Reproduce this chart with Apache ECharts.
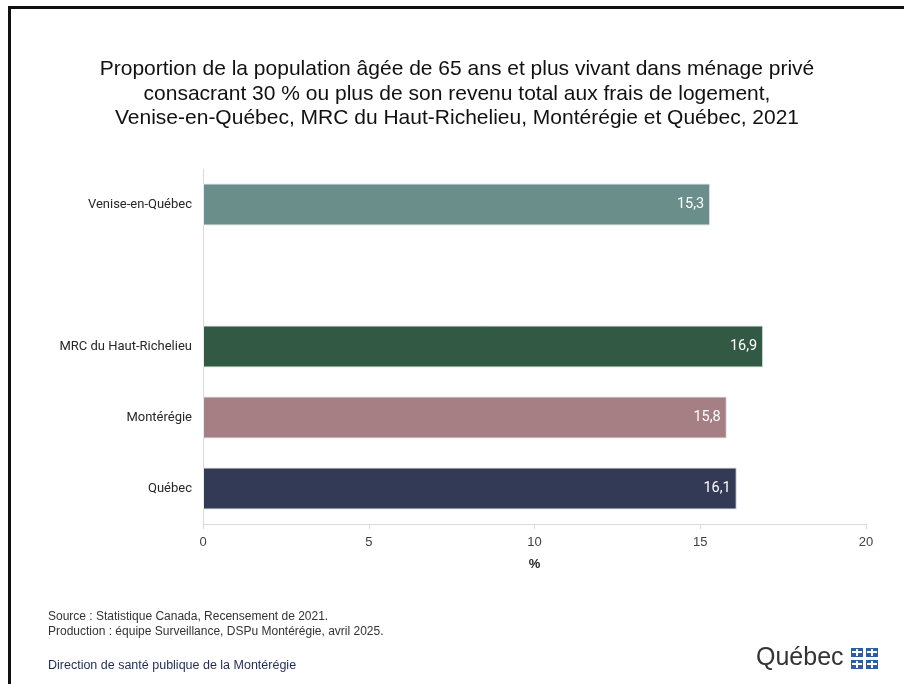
<!DOCTYPE html>
<html><head><meta charset="utf-8">
<script src="https://cdn.jsdelivr.net/npm/echarts@6/dist/echarts.min.js"></script>
<style>html,body{margin:0;padding:0;background:#fff}#c{width:904px;height:684px}</style>
</head><body><div id="c"></div>
<script>
const categories = ['Venise-en-Québec', '', 'MRC du Haut-Richelieu', 'Montérégie', 'Québec'];
const values = [15.3, null, 16.9, 15.8, 16.1];
const barColors = ['#6a8f8a', '#ffffff', '#325944', '#a67f84', '#323a56'];
const xTicks = [0, 5, 10, 15, 20];
const titleLines = [
  'Proportion de la population âgée de 65 ans et plus vivant dans ménage privé',
  'consacrant 30 % ou plus de son revenu total aux frais de logement,',
  'Venise-en-Québec, MRC du Haut-Richelieu, Montérégie et Québec, 2021'
];
const footerLines = [
  'Source : Statistique Canada, Recensement de 2021.',
  'Production : équipe Surveillance, DSPu Montérégie, avril 2025.'
];

const chart = echarts.init(document.getElementById('c'), null, {renderer: 'canvas'});

function flag(x, y) {
  const w = 12, h = 9;
  return [
    {type: 'rect', shape: {x: x, y: y, width: w, height: h}, style: {fill: '#2a5fa8'}},
    {type: 'rect', shape: {x: x + w / 2 - 1, y: y + 1, width: 2, height: h - 2}, style: {fill: '#ffffff'}},
    {type: 'rect', shape: {x: x + 1, y: y + Math.floor(h / 2) - 1, width: w - 2, height: 2}, style: {fill: '#ffffff'}}
  ];
}
const flags = [].concat(flag(851, 648), flag(866, 648), flag(851, 660), flag(866, 660));

chart.setOption({
  backgroundColor: '#ffffff',
  animation: false,
  title: {
    text: titleLines.join('\n'),
    left: 452, top: 52, textAlign: 'center',
    textStyle: {fontFamily: 'Liberation Sans, Arial, sans-serif', fontSize: 21, fontWeight: 'normal', color: '#111111', lineHeight: 24.5}
  },
  grid: {left: 203, right: 38, top: 169, bottom: 160, containLabel: false},
  xAxis: {
    type: 'value', min: 0, max: 20, interval: 5,
    name: '%', nameLocation: 'middle', nameGap: 34,
    nameTextStyle: {fontFamily: 'Liberation Sans, Arial, sans-serif', fontSize: 13, fontWeight: 'bold', color: '#262626'},
    axisLine: {show: true, lineStyle: {color: '#d9d9d9', width: 1}},
    axisTick: {show: true, length: 5, lineStyle: {color: '#d9d9d9'}},
    axisLabel: {fontFamily: 'Liberation Sans, Arial, sans-serif', fontSize: 13, color: '#404040', margin: 12,
      formatter: v => xTicks.indexOf(v) >= 0 ? String(v) : ''},
    splitLine: {show: false}
  },
  yAxis: {
    type: 'category', data: categories, inverse: true,
    axisLine: {show: true, lineStyle: {color: '#d9d9d9', width: 1}},
    axisTick: {show: false},
    axisLabel: {fontFamily: 'Roboto, Arial, sans-serif', fontSize: 13, color: '#262626', margin: 11}
  },
  series: [{
    type: 'bar',
    data: values.map((v, i) => ({value: v, itemStyle: {color: barColors[i], borderColor: '#e6ecea', borderWidth: 1}})),
    barWidth: 42,
    label: {
      show: true, position: 'insideRight', distance: 6,
      color: '#ffffff', fontFamily: 'Roboto, Arial, sans-serif', fontSize: 14.5,
      formatter: p => p.value == null ? '' : p.value.toFixed(1).replace('.', ',')
    }
  }],
  graphic: [
    {type: 'rect', shape: {x: 8, y: 6, width: 896, height: 3}, style: {fill: '#111111'}},
    {type: 'rect', shape: {x: 8, y: 6, width: 3, height: 678}, style: {fill: '#111111'}},
    {type: 'text', left: 48, top: 609, style: {text: footerLines.join('\n'), lineHeight: 15, fontFamily: 'Liberation Sans, Arial, sans-serif', fontSize: 12, fill: '#333333'}},
    {type: 'text', left: 48, top: 659, style: {text: 'Direction de santé publique de la Montérégie', fontFamily: 'Liberation Sans, Arial, sans-serif', fontSize: 12.5, fontWeight: 500, fill: '#1f2a5a'}},
    {type: 'text', left: 756, top: 646, style: {text: 'Québec', fontFamily: 'Liberation Sans, Arial, sans-serif', fontSize: 25, fill: '#333333'}}
  ].concat(flags)
});
</script></body></html>
